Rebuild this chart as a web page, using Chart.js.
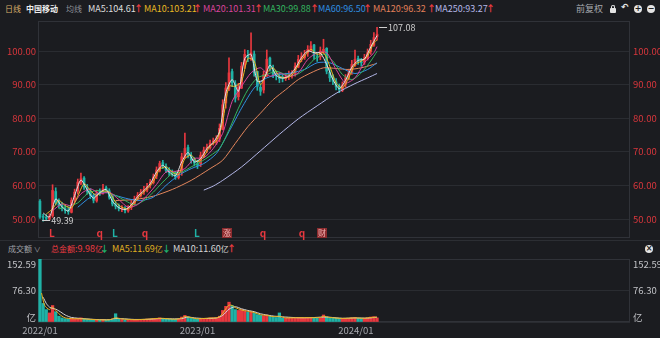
<!DOCTYPE html>
<html lang="zh-CN">
<head>
<meta charset="utf-8">
<title>中国移动 日线</title>
<script src="https://cdn.jsdelivr.net/npm/chart.js@4.4.1/dist/chart.umd.min.js"></script>
<style>
html,body{margin:0;padding:0;background:#1b1c20;}
#wrap{position:relative;width:660px;height:338px;overflow:hidden;background:#1b1c20;font-family:"Noto Sans CJK SC","Noto Sans",sans-serif;}
.t{position:absolute;white-space:nowrap;font-size:9px;line-height:12px;}
.cn{font-size:8px;}
.up{color:#ee3b40;font-weight:bold;}
.dn{color:#1fb36d;font-weight:bold;}
canvas{position:absolute;left:0;}
.sep{position:absolute;left:0;width:660px;height:1px;background:#2c2e33;}
.ico{position:absolute;width:8px;height:8px;border-radius:50%;background:#e4e4e4;color:#1b1c20;font:bold 8px/8px "DejaVu Sans",sans-serif;text-align:center;}
.lock{position:absolute;left:610px;top:8px;width:6px;height:5px;background:#e4e4e4;border-radius:1px;}
.lock:before{content:"";position:absolute;left:1px;top:-3px;width:2px;height:3px;border:1px solid #e4e4e4;border-bottom:none;border-radius:2px 2px 0 0;}
</style>
</head>
<body>
<div id="wrap">
  <span class="t cn" style="left:5px;top:3px;color:#d8ae6a">日线</span>
  <span class="t cn" style="left:26px;top:3px;color:#eeeeee;font-weight:bold">中国移动</span>
  <span class="t cn" style="left:66px;top:3px;color:#8e9198">均线</span>
  <span class="t" style="left:88px;top:3px;color:#dedede">MA5:104.61</span><span class="t up" style="left:134px;top:3px">↑</span>
  <span class="t" style="left:144px;top:3px;color:#e8b923">MA10:103.21</span><span class="t up" style="left:193px;top:3px">↑</span>
  <span class="t" style="left:203px;top:3px;color:#d9449c">MA20:101.31</span><span class="t up" style="left:254px;top:3px">↑</span>
  <span class="t" style="left:263px;top:3px;color:#33b45f">MA30:99.88</span><span class="t up" style="left:310px;top:3px">↑</span>
  <span class="t" style="left:318px;top:3px;color:#2f8fe0">MA60:96.50</span><span class="t up" style="left:363px;top:3px">↑</span>
  <span class="t" style="left:373px;top:3px;color:#e3805a">MA120:96.32</span><span class="t up" style="left:427px;top:3px">↑</span>
  <span class="t" style="left:435px;top:3px;color:#b5b8e8">MA250:93.27</span><span class="t up" style="left:486px;top:3px">↑</span>
  <span class="t cn" style="left:576px;top:3px;color:#a6a8ad;font-size:9px">前复权</span>
  <span class="lock"></span>
  <span class="t" style="left:621px;top:2px;color:#e4e4e4;font:bold 9px 'DejaVu Sans',sans-serif">↶</span>
  <span class="ico" style="left:634px;top:5px">+</span>
  <span class="ico" style="left:647px;top:5px">−</span>

  <canvas id="price" width="660" height="221" style="top:19px"></canvas>
  <div class="sep" style="top:240px"></div>

  <span class="t cn" style="left:8px;top:243px;color:#a0a2a8">成交额 <span style="font-size:7px">∨</span></span>
  <span class="t" style="left:51px;top:243px;color:#ee3b40"><span class="cn">总金额</span>:9.98<span class="cn">亿</span></span><span class="t dn" style="left:100px;top:243px">↓</span>
  <span class="t" style="left:112px;top:243px;color:#e0b020">MA5:11.69<span class="cn">亿</span></span><span class="t dn" style="left:162px;top:243px">↓</span>
  <span class="t" style="left:173px;top:243px;color:#d6d6d6">MA10:11.60<span class="cn">亿</span></span><span class="t up" style="left:227px;top:243px">↑</span>
  <span class="ico" style="left:645px;top:245px">×</span>

  <canvas id="vol" width="660" height="98" style="top:240px"></canvas>
</div>
<script>
// weekly candles, index 0 = first week of 2022/01
const opens=[55.3,50.8,50.4,50.0,51.0,58.2,55.3,54.2,53.1,52.6,
52.0,55.8,58.3,60.6,62.2,59.2,58.4,56.8,55.4,58.1,
57.8,59.3,58.4,56.7,54.3,53.9,53.0,53.2,52.4,53.5,
54.6,56.2,56.9,58.2,58.6,60.1,60.8,62.8,64.3,66.8,
65.6,64.7,63.6,63.8,62.3,63.9,68.2,71.3,68.8,67.7,
66.5,66.3,68.7,70.8,71.2,72.9,72.8,73.8,76.6,84.5,
88.6,93.9,90.2,86.4,89.0,95.9,98.7,98.4,99.1,93.9,
89.2,88.4,92.6,97.9,94.7,93.3,92.2,92.1,91.8,92.6,
92.5,93.3,95.2,97.8,98.0,99.4,100.2,101.8,98.2,98.3,
99.7,100.8,93.7,92.3,90.8,89.6,88.3,90.1,91.7,93.8,
95.7,97.8,96.8,96.7,97.8,99.8,101.7,104.3];
const closes=[50.6,50.5,50.2,50.8,58.5,55.0,54.0,53.3,52.5,52.2,
55.5,58.0,61.0,62.0,59.5,58.2,57.0,55.6,57.8,58.0,
59.0,58.6,56.5,54.5,53.8,53.2,53.0,52.6,53.2,54.8,
56.0,57.1,58.0,58.8,59.8,61.0,62.5,64.6,66.5,65.8,
64.5,63.8,63.5,62.5,63.5,68.5,71.0,69.0,67.5,66.7,
66.0,69.0,70.5,71.4,72.6,73.0,73.5,77.0,84.0,89.0,
93.5,90.5,86.0,89.3,95.5,99.0,98.0,99.5,93.5,89.5,
88.0,93.0,97.5,95.0,93.0,92.5,91.8,92.0,92.3,92.8,
93.0,95.5,97.5,98.3,99.0,100.5,101.5,98.5,98.0,100.0,
100.5,94.0,92.0,91.0,89.3,88.5,89.8,92.0,93.5,96.0,
97.5,97.0,96.5,98.0,99.5,102.0,104.0,105.0];
const highs=[55.8,51.4,51.3,51.6,60.2,59.3,56.0,55.0,54.1,53.4,
56.3,58.9,61.9,63.7,62.6,60.3,59.0,57.6,58.6,59.0,
60.3,59.8,59.0,57.0,55.2,54.5,54.0,53.7,54.0,55.5,
56.8,57.9,58.8,59.7,60.6,61.8,63.4,65.5,67.2,67.5,
66.4,65.3,64.6,64.2,64.4,69.6,75.6,72.0,69.8,68.3,
67.5,69.9,71.4,72.3,73.5,74.1,74.8,78.3,85.5,90.6,
98.0,94.6,91.2,90.4,96.6,100.4,100.2,105.4,100.0,94.0,
90.2,94.0,100.3,98.2,95.8,94.0,93.4,93.0,93.4,94.0,
94.2,96.5,98.7,99.5,100.2,101.6,102.8,102.0,99.4,101.2,
103.5,101.0,94.8,93.0,91.8,90.2,90.8,93.0,94.6,97.2,
100.3,98.5,97.8,99.0,100.6,103.2,105.5,107.08];
const lows=[50.2,49.39,49.6,49.8,50.5,54.2,53.2,52.4,51.7,51.4,
51.8,55.0,57.4,60.2,58.8,57.4,56.1,54.8,55.0,57.0,
57.4,57.8,55.9,53.9,53.0,52.4,52.2,51.8,52.0,52.8,
54.2,55.4,56.5,57.3,58.1,59.2,60.4,62.0,64.0,65.0,
63.8,63.0,62.7,61.8,61.9,63.0,68.0,68.2,66.6,65.8,
65.0,65.6,68.4,69.8,70.8,72.0,72.2,73.0,76.5,83.0,
88.2,89.4,84.8,85.4,88.8,94.8,96.8,97.2,92.5,88.3,
86.8,87.5,92.4,94.0,92.1,91.4,90.6,90.8,91.2,91.5,
91.9,92.5,95.0,96.8,97.5,98.4,99.8,97.6,96.9,97.4,
99.2,93.2,90.9,90.0,88.4,87.6,87.9,89.2,91.4,93.0,
95.4,96.0,95.5,96.0,97.3,99.0,101.4,103.2];
// 成交额, 亿
const volumes=[152.59,45,30,22,40,25,14,10,8,7,
9,8,9,10,7,6,5.5,5,5.5,5,
6,5,5,5.5,20,7,6,5,5,5,
5.5,6,6,6.5,7,7,8,9,10,9,
8,7,6.5,6.5,7,12,16,12,9,8,
7,8,9,9,10,10,10,14,28,38,
48,40,30,28,30,27,24,25,22,18,
16,15,17,14,12,11,22,9.5,9,10,
9,10,11,11,10,10,11,10,9,9.5,
17,12,10,9,9,8.5,8.5,9,9,10,
11,9,8.5,9,10,12,13,10];

// moving averages as [week, value]
const ma5=[[1,51.8],[3,50.6],[5,56.0],[7,53.6],[9,52.4],[11,57.0],[13,61.6],[15,58.7],[17,56.2],[19,57.9],[21,58.8],[23,55.3],[25,53.4],[27,52.8],[29,54.2],[31,56.7],[33,58.5],[35,60.5],[37,64.0],[39,66.0],[41,64.0],[43,62.9],[45,67.0],[47,69.8],[49,67.0],[51,68.0],[53,71.0],[55,72.8],[57,76.0],[59,87.5],[61,91.5],[63,88.0],[65,97.8],[67,99.0],[69,91.0],[71,91.5],[73,95.8],[75,92.7],[77,91.9],[79,92.6],[81,94.8],[83,98.0],[85,100.0],[87,99.5],[89,99.4],[91,96.0],[93,91.5],[95,88.8],[97,91.3],[99,95.2],[101,97.2],[103,97.6],[105,101.2],[107,104.6]];
const ma10=[[2,51.5],[4,53.0],[6,55.5],[8,54.0],[10,53.3],[12,56.8],[14,60.5],[16,58.5],[18,57.0],[20,58.3],[22,58.0],[24,55.0],[26,53.5],[28,53.0],[30,54.8],[32,57.2],[34,59.0],[36,61.2],[38,64.8],[40,65.5],[42,64.0],[44,63.2],[46,68.0],[48,69.0],[50,67.0],[52,68.5],[54,71.8],[56,73.2],[58,79.0],[60,89.5],[62,89.5],[64,91.0],[66,97.8],[68,97.0],[70,90.0],[72,93.5],[74,95.0],[76,92.5],[78,92.0],[80,92.8],[82,95.8],[84,98.5],[86,100.5],[88,99.0],[90,99.5],[92,95.5],[94,90.5],[96,89.0],[98,92.0],[100,96.0],[102,97.0],[104,98.5],[106,102.5],[107,103.2]];
const ma20=[[4,52.5],[7,54.5],[10,54.0],[13,57.5],[16,59.0],[19,57.5],[22,58.0],[25,55.8],[28,53.5],[31,54.3],[34,57.0],[37,60.3],[40,64.0],[43,64.2],[46,65.0],[49,68.0],[52,68.2],[55,71.0],[58,75.5],[61,85.0],[64,89.5],[67,93.5],[70,95.0],[73,92.5],[76,93.5],[79,92.4],[82,93.5],[85,97.5],[88,99.5],[91,99.5],[94,94.5],[97,90.5],[100,92.0],[103,96.5],[106,99.5],[107,101.3]];
const ma30=[[6,53.0],[9,53.8],[12,54.8],[15,57.5],[18,58.5],[21,58.0],[24,57.0],[27,55.5],[30,54.2],[33,55.5],[36,58.0],[39,61.0],[42,63.5],[45,64.0],[48,65.5],[51,67.0],[54,68.8],[57,71.0],[60,76.5],[63,83.0],[66,88.5],[69,92.0],[72,93.0],[75,94.0],[78,93.0],[81,92.8],[84,94.5],[87,97.5],[90,99.0],[93,97.0],[96,93.0],[99,91.5],[102,93.5],[105,97.0],[107,99.9]];
const ma60=[[12,53.5],[16,56.5],[20,58.0],[24,57.0],[28,56.0],[32,55.5],[36,56.5],[40,60.0],[44,63.0],[48,65.0],[52,66.5],[56,69.5],[60,76.0],[64,83.0],[68,89.0],[72,92.0],[76,93.0],[80,93.5],[84,94.5],[88,96.5],[92,96.5],[96,94.8],[100,93.3],[104,94.5],[107,96.5]];
const ma120=[[24,55.5],[30,55.8],[36,56.8],[42,58.8],[48,61.5],[54,65.0],[58,67.5],[62,72.5],[66,77.5],[70,81.5],[74,85.5],[78,88.5],[82,91.5],[86,93.5],[90,95.0],[94,94.8],[98,94.5],[102,95.0],[107,96.3]];
const ma250=[[52,58.6],[55,59.8],[58,61.5],[64,65.5],[70,70.3],[76,75.2],[82,79.8],[88,83.7],[94,87.4],[100,90.3],[104,92.0],[107,93.3]];
const volMa5=[[0.5,70],[1.5,40],[3,30],[4,36],[5,28],[6,20],[7,14],[8,10],[10,8],[14,7.5],[18,5.5],[22,5.3],[24,10],[26,7.5],[30,5.6],[34,6.8],[38,9],[40,8.3],[43,6.6],[45,9.5],[46,13.5],[48,10.5],[50,7.8],[54,9.6],[56,10],[57,13],[58,21],[59,32],[60,41],[61,40],[62,35],[64,29],[66,26],[68,23],[70,17.5],[72,16],[74,13],[76,14],[78,10],[82,10.4],[86,10.5],[89,11],[90,14],[92,11],[96,8.7],[100,10],[103,9],[105,11],[107,11.7]];
const volMa10=[[1,60],[2,45],[3,36],[4,33],[5,31],[6,27],[7,22],[8,17],[10,11],[14,8],[18,6],[22,5.6],[24,8.5],[26,8],[30,6.2],[34,6.5],[38,8.2],[42,7.6],[45,8.2],[47,12],[49,10],[52,8.5],[56,9.7],[58,16],[60,31],[62,37],[64,32],[66,28],[68,25],[70,20],[72,17],[74,14.5],[76,13],[78,12],[82,10.3],[86,10.5],[90,12],[92,11.5],[96,9],[100,9.8],[104,9.5],[107,11.6]];

const priceTicks=[50,60,70,80,90,100];
const volTicks=[0,76.30,152.59];
const yearTicks=[0,50,100.3];
const yearLabels=['2022/01','2023/01','2024/01'];
const markerIdx=[3.8,19,23.8,33.3,49.8,59.4,70.8,83.2,89.5];
const markerText=['L','q','L','q','L','涨','q','q','财'];
const markerUp=[1,1,0,1,0,1,1,1,1];

const X_MIN=-0.63, X_MAX=187.3;
const FONT='"Noto Sans CJK SC","Noto Sans",sans-serif';
const RED='#e8383f', TEAL='#1fb2a6', GRID='#2a2c31', EDGE='#303238';

const candleColor=closes.map((c,i)=>c>=opens[i]?RED:TEAL);
const pts=arr=>arr.map(([x,y])=>({x,y}));
const line=(arr,color,ord)=>({type:'line',data:pts(arr),borderColor:color,borderWidth:1,pointRadius:0,tension:0.25,order:ord});

const frame={
  id:'frame',
  beforeDatasetsDraw(c){
    const {ctx,chartArea:a}=c;
    ctx.save(); ctx.strokeStyle=EDGE; ctx.lineWidth=1;
    ctx.strokeRect(Math.round(a.left)+0.5,Math.round(a.top)+0.5,Math.round(a.right-a.left)-1,Math.round(a.bottom-a.top)-1);
    ctx.restore();
  }
};

// tick labels on both sides, placed from the library's y scale
function sideLabels(values,fmt,color,nudge){
  return {
    id:'sideLabels',
    afterDraw(c){
      const {ctx,chartArea:a,scales:{y}}=c;
      ctx.save(); ctx.font='9.5px '+FONT; ctx.fillStyle=color; ctx.textBaseline='middle';
      values.forEach(v=>{
        const py=y.getPixelForValue(v)+nudge(v);
        ctx.textAlign='right'; ctx.fillText(fmt(v),a.left-2,py);
        ctx.textAlign='left'; ctx.fillText(fmt(v),a.right+3,py);
      });
      ctx.restore();
    }
  };
}

const priceMarks={
  id:'priceMarks',
  afterDatasetsDraw(c){
    const {ctx,chartArea:a,scales:{x,y}}=c;
    ctx.save();
    ctx.font='9px '+FONT; ctx.textBaseline='middle'; ctx.textAlign='left';
    ctx.strokeStyle='#cfcfcf'; ctx.fillStyle='#cfcfcf'; ctx.lineWidth=1;
    const hi=highs.indexOf(Math.max(...highs)), lo=lows.indexOf(Math.min(...lows));
    let px=x.getPixelForValue(hi), py=Math.round(y.getPixelForValue(highs[hi]))+0.5;
    ctx.beginPath(); ctx.moveTo(px+2,py); ctx.lineTo(px+10,py); ctx.stroke();
    ctx.fillText(highs[hi].toFixed(2),px+11,py);
    px=x.getPixelForValue(lo); py=Math.round(y.getPixelForValue(lows[lo]))-0.5;
    ctx.beginPath(); ctx.moveTo(px-1,py); ctx.lineTo(px+7,py); ctx.stroke();
    ctx.fillText(lows[lo].toFixed(2),px+8,py);
    // event markers along the bottom
    const my=a.bottom-5;
    markerIdx.forEach((m,k)=>{
      const mx=x.getPixelForValue(m), s=markerText[k];
      ctx.textAlign='center';
      if(/[\u4e00-\u9fff]/.test(s)){
        ctx.fillStyle='#8c2b2e'; ctx.fillRect(Math.round(mx)-5,my-5,10,10);
        ctx.fillStyle='#f4b4b4'; ctx.font='8px '+FONT; ctx.fillText(s,mx,my);
      }else{
        ctx.fillStyle=markerUp[k]?RED:TEAL; ctx.font='bold 10px '+FONT; ctx.fillText(s,mx,my);
      }
    });
    ctx.restore();
  }
};

new Chart(document.getElementById('price'),{
  type:'bar',
  data:{datasets:[
    line(ma250,'#b4b7e8',7),
    line(ma120,'#e3865c',6),
    line(ma60,'#2f8fe0',5),
    line(ma30,'#33b45f',4),
    line(ma20,'#d9449c',3),
    line(ma10,'#e8b923',2),
    line(ma5,'#e2e2e2',1),
    {data:highs.map((h,i)=>({x:i,y:[lows[i],h]})),backgroundColor:candleColor,barThickness:1,grouped:false,order:20},
    {data:closes.map((c,i)=>({x:i,y:[opens[i],c]})),backgroundColor:candleColor,barThickness:2,minBarLength:1,grouped:false,order:19}
  ]},
  options:{
    responsive:false,animation:false,events:[],devicePixelRatio:1,
    layout:{padding:{top:2,bottom:2,left:0,right:30}},
    plugins:{legend:{display:false},tooltip:{enabled:false}},
    scales:{
      x:{type:'linear',min:X_MIN,max:X_MAX,offset:false,display:false},
      y:{position:'left',min:44.35,max:108.93,
        afterFit(s){s.width=38;},
        afterBuildTicks(s){s.ticks=priceTicks.map(v=>({value:v}));},
        ticks:{display:false},
        grid:{color:GRID,drawTicks:false},border:{display:false}}
    }
  },
  plugins:[frame,priceMarks,sideLabels(priceTicks,v=>v.toFixed(2),'#d8363c',()=>0)]
});

const volTop=Math.max(...volTicks);
const yearLabelsPlugin={
  id:'yearLabels',
  afterDraw(c){
    const {ctx,chartArea:a,scales:{x}}=c;
    ctx.save(); ctx.font='9.5px '+FONT; ctx.fillStyle='#a6a8ae'; ctx.textAlign='center'; ctx.textBaseline='middle';
    yearTicks.forEach((v,i)=>ctx.fillText(yearLabels[i],x.getPixelForValue(v),a.bottom+8));
    ctx.restore();
  }
};

new Chart(document.getElementById('vol'),{
  type:'bar',
  data:{datasets:[
    {type:'line',data:pts(volMa10),borderColor:'#d8d8d8',borderWidth:1,pointRadius:0,tension:0.25,order:2},
    {type:'line',data:pts(volMa5),borderColor:'#e3b21f',borderWidth:1,pointRadius:0,tension:0.25,order:1},
    {data:volumes.map((v,i)=>({x:i,y:v})),backgroundColor:candleColor,barThickness:2.6,grouped:false,order:10}
  ]},
  options:{
    responsive:false,animation:false,events:[],devicePixelRatio:1,
    layout:{padding:{top:19,bottom:16,left:0,right:30}},
    plugins:{legend:{display:false},tooltip:{enabled:false}},
    scales:{
      x:{type:'linear',min:X_MIN,max:X_MAX,offset:false,display:false},
      y:{position:'left',min:0,max:152.59,
        afterFit(s){s.width=38;},
        afterBuildTicks(s){s.ticks=volTicks.map(v=>({value:v}));},
        ticks:{display:false},
        grid:{color:GRID,drawTicks:false},border:{display:false}}
    }
  },
  plugins:[frame,yearLabelsPlugin,sideLabels(volTicks,v=>v===0?'亿':v.toFixed(2),'#c2c3c7',v=>v===volTop?5:(v===0?-5:0))]
});
</script>
</body>
</html>
